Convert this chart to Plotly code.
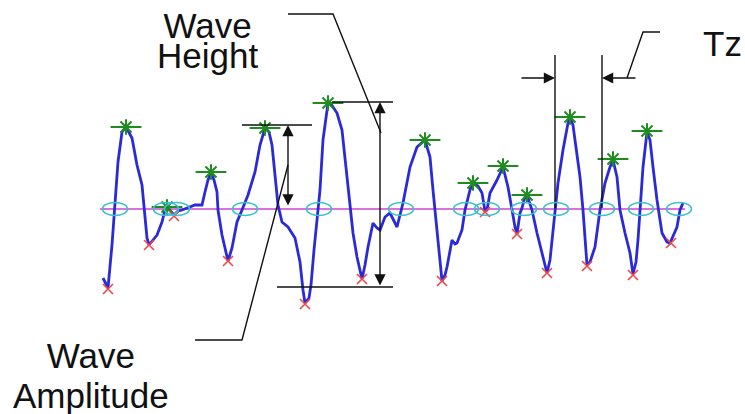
import plotly.graph_objects as go

# ---------------- data (time, surface elevation) ----------------
t = [103, 108, 112, 115, 118, 122, 126, 132, 137, 142, 144, 147, 149, 157, 162, 165, 167, 171, 174, 178,
     182, 195, 202, 205, 208, 211, 214, 217, 218, 222, 227, 228, 232, 237, 242, 248, 255, 260, 265, 269,
     272, 275, 278, 282, 288, 295, 300, 303, 305, 309, 311, 314, 317, 320, 323, 327, 328, 331, 337, 342,
     345, 348, 350, 353, 357, 362, 365, 368, 373, 377, 380, 385, 390, 394, 397, 400, 403, 410, 417, 425,
     430, 433, 437, 440, 442, 445, 447, 452, 455, 457, 462, 465, 470, 473, 478, 482, 485, 487, 490, 497,
     503, 508, 512, 515, 517, 520, 522, 525, 527, 532, 537, 542, 547, 550, 555, 558, 563, 568, 570, 573,
     575, 580, 583, 585, 587, 590, 595, 600, 605, 610, 613, 617, 620, 625, 630, 633, 636, 638, 640, 643,
     647, 650, 653, 657, 662, 667, 670, 677, 680, 683]
eta = [-69, -79, -36, 1, 47, 77, 82, 71, 44, 24, 1, -29, -36, -26, -13, -1, 2, -3, -6, -2,
       -1, 4, 4, 17, 29, 37, 29, 17, -1, -26, -49, -52, -39, -13, -1, 14, 37, 64, 81, 77,
       64, 31, 4, -13, -18, -29, -53, -81, -94, -89, -76, -41, -14, 19, 69, 99, 106, 105, 96, 79,
       52, 26, 2, -24, -48, -70, -56, -38, -14, -19, -21, -8, -4, -13, -18, -6, 6, 42, 62, 69,
       52, 19, -21, -54, -72, -66, -58, -31, -35, -34, -21, -1, 19, 26, 23, 16, -2, -1, 16, 29,
       42, 22, -1, -18, -25, -4, 1, 12, 14, -1, -24, -44, -64, -51, -1, 26, 59, 86, 92, 84,
       69, 32, -1, -31, -56, -53, -38, -1, 26, 42, 49, 32, -1, -24, -44, -65, -53, -31, -1, 42,
       77, 69, 42, 9, -24, -33, -34, -18, -1, 6]

crest_t = [126, 167, 211, 265, 328, 425, 473, 503, 527, 570, 613, 647]
crest_eta = [82, 2, 37, 81, 106, 69, 26, 43, 14, 92, 50, 78]

trough_t = [108, 149, 174, 228, 305, 362, 442, 485, 517, 547, 587, 633, 671]
trough_eta = [-80, -36, -7, -52, -95, -70, -72, -3, -25, -64, -57, -66, -34]

upcross_t = [115, 166, 177, 245, 319, 401, 466, 487, 524, 556, 602, 641, 679]

mean_t = [100, 685]
mean_eta = [0, 0]

labels_height = ["Wave", "Height"]
labels_amp = ["Wave", "Amplitude"]
label_tz = "Tz"

# ---------------- figure ----------------
BLUE = "#2a2ad8"
MAG = "#cc44cc"
CYAN = "#3cc0d0"
GREEN = "#1e8c1e"
RED = "#f04848"
INK = "#111111"

fig = go.Figure()

fig.add_trace(go.Scatter(x=mean_t, y=mean_eta, mode="lines",
                         line=dict(color=MAG, width=1.6), hoverinfo="skip"))
fig.add_trace(go.Scatter(x=t, y=eta, mode="lines",
                         line=dict(color=BLUE, width=2.8), hoverinfo="skip"))
fig.add_trace(go.Scatter(x=crest_t, y=crest_eta, mode="markers",
                         marker=dict(symbol="asterisk-open", size=13, color=GREEN,
                                     line=dict(color=GREEN, width=2)), hoverinfo="skip"))
fig.add_trace(go.Scatter(x=crest_t, y=crest_eta, mode="markers",
                         marker=dict(symbol="line-ew-open", size=22, color=GREEN,
                                     line=dict(color=GREEN, width=2)), hoverinfo="skip"))
fig.add_trace(go.Scatter(x=trough_t, y=trough_eta, mode="markers",
                         marker=dict(symbol="x-thin-open", size=10, color=RED,
                                     line=dict(color=RED, width=1.6)), hoverinfo="skip"))

shapes = []
for c in upcross_t:
    shapes.append(dict(type="circle", xref="x", yref="y", x0=c - 12.5, x1=c + 12.5,
                       y0=-6.5, y1=6.5, line=dict(color=CYAN, width=1.5), layer="above"))

def seg(xs, ys):
    fig.add_trace(go.Scatter(x=xs, y=ys, mode="lines",
                             line=dict(color=INK, width=1.4), hoverinfo="skip"))

# dimension / leader lines
seg([332, 393], [107, 107])          # height top
seg([277, 393], [-78, -78])          # height bottom
seg([242, 312], [84, 84])            # amplitude top
seg([288, 333, 381], [195, 195, 76])  # height leader
seg([195, 242, 288], [-131, -131, 44])  # amplitude leader
seg([660, 643, 627], [177, 177, 131])  # Tz leader
seg([555, 555], [154, 1])
seg([602, 602], [154, 1])

annotations = []

def arrow(x, y, ax, ay, both=False):
    annotations.append(dict(x=x, y=y, ax=ax, ay=ay, xref="x", yref="y", axref="x", ayref="y",
                            text="", showarrow=True, arrowhead=2, arrowsize=1.6,
                            arrowwidth=1.4, arrowcolor=INK,
                            arrowside="end+start" if both else "end"))

arrow(380, 107, 380, -78, both=True)
arrow(288, 84, 288, 2, both=True)
arrow(555, 131, 520, 131)
arrow(602, 131, 637, 131)

FAMILY = "Liberation Sans, Arial, sans-serif"

def block(lines, x, y, base, big=35):
    txt = "<br>".join(f"<span style='font-size:{big}px'>{s}</span>" for s in lines)
    annotations.append(dict(x=x, y=y, xref="x", yref="y", text=txt, showarrow=False,
                            xanchor="center", yanchor="middle", align="center",
                            font=dict(family=FAMILY, size=base, color=INK)))

block(labels_height, 207, 169, 23)
block(labels_amp, 91, -166, 31)
annotations.append(dict(x=722, y=166, xref="x", yref="y", text=label_tz, showarrow=False,
                        xanchor="center", yanchor="middle",
                        font=dict(family=FAMILY, size=35, color=INK)))

fig.update_layout(
    width=745, height=414,
    margin=dict(l=0, r=0, t=0, b=0),
    paper_bgcolor="white", plot_bgcolor="white",
    showlegend=False,
    shapes=shapes, annotations=annotations,
    xaxis=dict(range=[0, 745], visible=False, fixedrange=True),
    yaxis=dict(range=[-205, 209], visible=False, fixedrange=True),
)

fig.write_html("out.html", config=dict(displayModeBar=False),
               post_script="document.body.style.margin='0px';")
